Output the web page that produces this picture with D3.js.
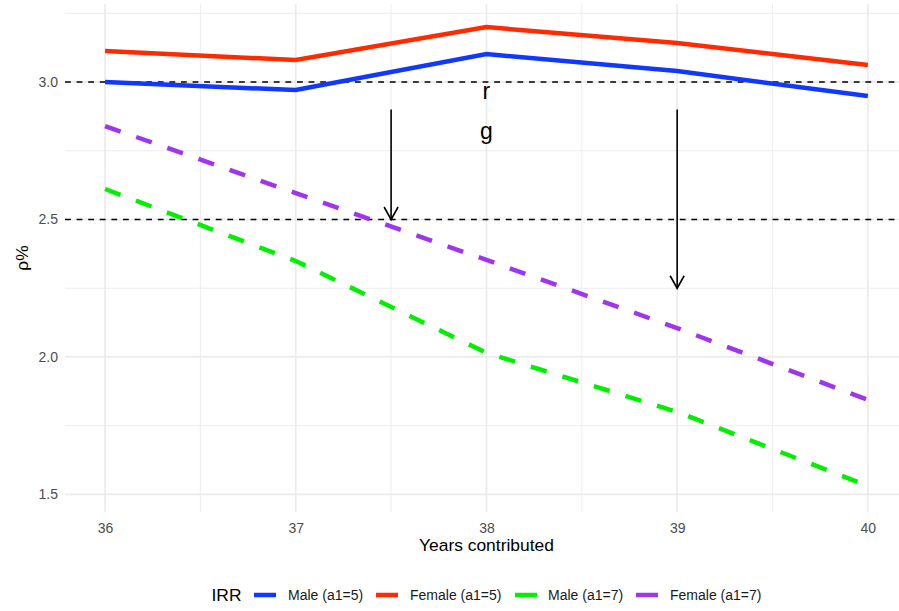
<!DOCTYPE html>
<html>
<head>
<meta charset="utf-8">
<script src="https://cdn.jsdelivr.net/npm/d3@7"></script>
<style>
  body { margin: 0; background: #fff; }
  text { font-family: "Liberation Sans", Arial, Helvetica, sans-serif; }
</style>
</head>
<body>
<div id="chart"></div>
<script>
var years = [36, 37, 38, 39, 40];
var maleA5 = [3.0, 2.971, 3.102, 3.04, 2.949];
var femaleA5 = [3.113, 3.08, 3.2, 3.142, 3.062];
var maleA7 = [2.611, 2.349, 2.015, 1.8, 1.531];
var femaleA7 = [2.84, 2.596, 2.353, 2.105, 1.844];

var seriesNames = ["Male (a1=5)", "Female (a1=5)", "Male (a1=7)", "Female (a1=7)"];
var seriesValues = [maleA5, femaleA5, maleA7, femaleA7];
var seriesColors = ["#1038ff", "#ff2a00", "#00f000", "#a035f0"];
var seriesDashed = [false, false, true, true];

var xTicks = [36, 37, 38, 39, 40];
var xMinor = [36.5, 37.5, 38.5, 39.5];
var yTicks = [1.5, 2.0, 2.5, 3.0];
var yMinor = [1.75, 2.25, 2.75, 3.25];

var hlines = [3.0, 2.5];
var arrows = [{x: 37.5, from: 2.9, to: 2.5}, {x: 39, from: 2.9, to: 2.25}];
var labels = [{x: 38, y: 2.94, t: "r"}, {x: 38, y: 2.792, t: "g"}];

var svgWidth = 899;
var svgHeight = 611;

var panel = {left: 65, right: 906, top: 4, bottom: 512};

var svg = d3.select("#chart")
  .append("svg")
  .attr("width", svgWidth)
  .attr("height", svgHeight);

var x = d3.scaleLinear()
  .domain([35.79, 40.2])
  .range([panel.left, panel.right]);

var y = d3.scaleLinear()
  .domain([1.436, 3.284])
  .range([panel.bottom, panel.top]);

// grid
var grid = svg.append("g");
grid.selectAll(".ymin").data(yMinor).enter().append("line")
  .attr("x1", panel.left).attr("x2", panel.right)
  .attr("y1", d => y(d)).attr("y2", d => y(d))
  .attr("stroke", "#ebebeb").attr("stroke-width", 0.9);
grid.selectAll(".xmin").data(xMinor).enter().append("line")
  .attr("y1", panel.top).attr("y2", panel.bottom)
  .attr("x1", d => x(d)).attr("x2", d => x(d))
  .attr("stroke", "#ebebeb").attr("stroke-width", 0.9);
grid.selectAll(".ymaj").data(yTicks).enter().append("line")
  .attr("x1", panel.left).attr("x2", panel.right)
  .attr("y1", d => y(d)).attr("y2", d => y(d))
  .attr("stroke", "#ebebeb").attr("stroke-width", 1.7);
grid.selectAll(".xmaj").data(xTicks).enter().append("line")
  .attr("y1", panel.top).attr("y2", panel.bottom)
  .attr("x1", d => x(d)).attr("x2", d => x(d))
  .attr("stroke", "#ebebeb").attr("stroke-width", 1.7);

// axes
var bottomAxis = d3.axisBottom(x).tickValues(xTicks).tickSize(0).tickPadding(0).tickFormat(d3.format("d"));
var leftAxis = d3.axisLeft(y).tickValues(yTicks).tickSize(0).tickPadding(0).tickFormat(d3.format(".1f"));

var xAxis = svg.append("g")
  .attr("transform", `translate(0, ${panel.bottom + 11})`)
  .call(bottomAxis);
var yAxis = svg.append("g")
  .attr("transform", `translate(${panel.left - 7}, 0)`)
  .call(leftAxis);

[xAxis, yAxis].forEach(function(a) {
  a.select(".domain").remove();
  a.selectAll("text")
    .attr("fill", "#4d4d4d")
    .style("font-size", "14px")
    .style("font-family", "'Liberation Sans', Arial, sans-serif");
});

svg.append("text")
  .attr("x", (x(36) + x(40)) / 2)
  .attr("y", 551)
  .attr("text-anchor", "middle")
  .style("font-size", "17.4px")
  .text("Years contributed");

svg.append("text")
  .attr("transform", `translate(28, ${(panel.top + panel.bottom) / 2}) rotate(-90)`)
  .attr("text-anchor", "middle")
  .style("font-size", "17.4px")
  .text("ρ%");

// reference lines
svg.selectAll(".hline").data(hlines).enter().append("line")
  .attr("x1", panel.left).attr("x2", svgWidth)
  .attr("y1", d => y(d)).attr("y2", d => y(d))
  .attr("stroke", "#000").attr("stroke-width", 1.6)
  .attr("stroke-dasharray", "5.8,5.8");

// series
var line = d3.line()
  .x((d, i) => x(years[i]))
  .y(d => y(d));

svg.selectAll(".series").data(seriesValues).enter().append("path")
  .attr("d", d => line(d))
  .attr("fill", "none")
  .attr("stroke", (d, i) => seriesColors[i])
  .attr("stroke-width", 4.5)
  .attr("stroke-dasharray", (d, i) => seriesDashed[i] ? "16.5,16.5" : null);

// arrows
var arrowG = svg.selectAll(".arrow").data(arrows).enter().append("g");
arrowG.append("line")
  .attr("x1", d => x(d.x)).attr("x2", d => x(d.x))
  .attr("y1", d => y(d.from)).attr("y2", d => y(d.to))
  .attr("stroke", "#000").attr("stroke-width", 1.6);
arrowG.append("path")
  .attr("d", d => `M${x(d.x) - 7},${y(d.to) - 12.5}L${x(d.x)},${y(d.to)}L${x(d.x) + 7},${y(d.to) - 12.5}`)
  .attr("fill", "none")
  .attr("stroke", "#000").attr("stroke-width", 1.6);

svg.selectAll(".anno").data(labels).enter().append("text")
  .attr("x", d => x(d.x))
  .attr("y", d => y(d.y))
  .attr("text-anchor", "middle")
  .style("font-size", "23px")
  .text(d => d.t);

// legend
var legendY = 595;
var legendKeyX = [254, 376, 515, 636];
var legendTextX = [288, 410, 548, 670];

svg.append("text")
  .attr("x", 211.5)
  .attr("y", legendY)
  .attr("dy", "0.35em")
  .style("font-size", "17.4px")
  .text("IRR");

var legend = svg.selectAll(".legend").data(seriesNames).enter().append("g");
legend.append("line")
  .attr("x1", (d, i) => legendKeyX[i]).attr("x2", (d, i) => legendKeyX[i] + 22)
  .attr("y1", legendY).attr("y2", legendY)
  .attr("stroke", (d, i) => seriesColors[i])
  .attr("stroke-width", 4.5);
legend.append("text")
  .attr("x", (d, i) => legendTextX[i])
  .attr("y", legendY)
  .attr("dy", "0.35em")
  .attr("fill", "#1a1a1a")
  .style("font-size", "14px")
  .text(d => d);
</script>
</body>
</html>
